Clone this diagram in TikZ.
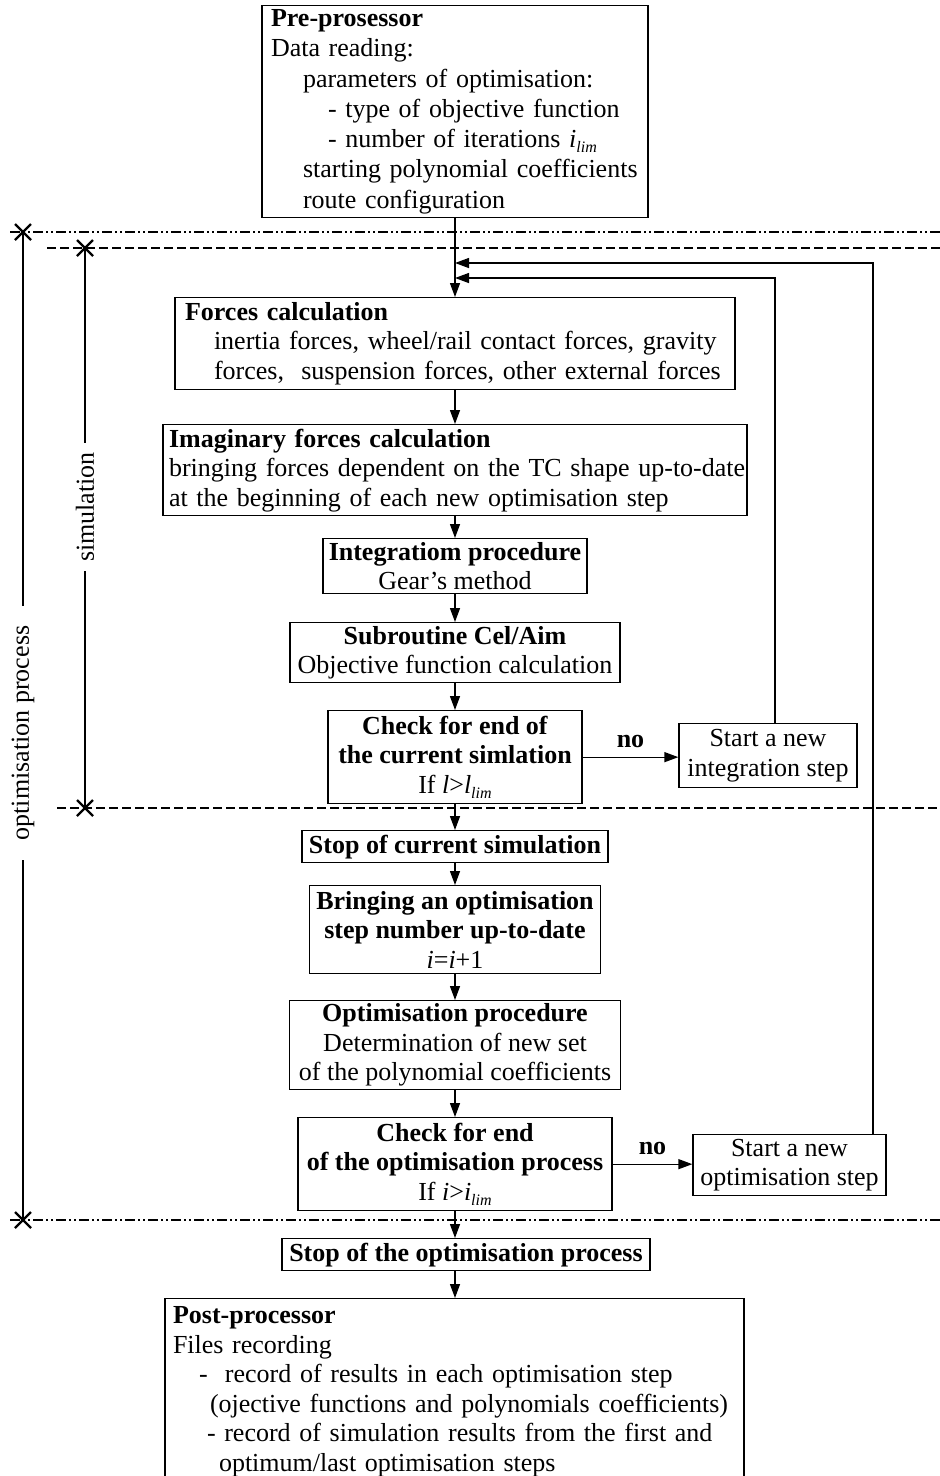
\documentclass[tikz,border=0pt]{standalone}
\usepackage{fontspec}
\setmainfont{Liberation Serif}
\usetikzlibrary{arrows.meta}
\newcommand\limsub[1]{\textit{#1}\raisebox{-5pt}{\fontsize{16}{16}\selectfont\textit{lim}}}
\newcommand\boxline[2][0pt]{\mbox{\hspace*{#1}#2}}
\begin{document}
\begin{tikzpicture}[x=1pt,y=-1pt,
  font=\fontsize{26}{29.5}\selectfont,
  box/.style={draw, line width=1.3pt, inner sep=0pt, anchor=north},
  lbox/.style={box, align=left},
  cbox/.style={box, align=center},
  arr/.style={line width=1.3pt, -{Triangle[length=14pt,width=10pt]}},
  rail/.style={line width=1.3pt},
  dd/.style={line width=2.6pt, dash pattern=on 10pt off 3pt on 2pt off 3pt on 2pt off 3pt},
  dsh/.style={line width=2.6pt, dash pattern=on 9pt off 4pt},
  xmark/.style={line width=2.4pt}]
\useasboundingbox (0,0) rectangle (940,1476);

% boxes
\node[lbox, text width=368pt, inner xsep=9pt, minimum height=212pt, font=\fontsize{26}{30.3}\selectfont] (pre) at (455,5)
 {\boxline{\textbf{Pre-prosessor}}\\
  \boxline{Data reading:}\\
  \boxline[32pt]{parameters of optimisation:}\\
  \boxline[57pt]{- type of objective function}\\
  \boxline[57pt]{- number of iterations \limsub{i}}\\
  \boxline[32pt]{starting polynomial coefficients}\\
  \boxline[32pt]{route configuration}};

\node[lbox, text width=540pt, inner xsep=10pt, minimum height=92pt] (forces) at (455,297)
 {\boxline{\textbf{Forces calculation}}\\
  \boxline[29pt]{inertia forces, wheel/rail contact forces, gravity}\\
  \boxline[29pt]{forces,\ \ suspension forces, other external forces}};

\node[lbox, text width=572pt, inner xsep=6pt, minimum height=91pt] (imag) at (455,424)
 {\boxline{\textbf{Imaginary forces calculation}}\\
  \boxline{bringing forces dependent on the TC shape up-to-date}\\
  \boxline{at the beginning of each new optimisation step}};

\node[cbox, minimum width=264pt, minimum height=55pt] (integ) at (455,538)
 {\textbf{Integratiom procedure}\\Gear’s method};

\node[cbox, minimum width=330pt, minimum height=60pt] (subr) at (455,622)
 {\textbf{Subroutine Cel/Aim}\\Objective function calculation};

\node[cbox, minimum width=254pt, minimum height=93pt] (check1) at (455,710)
 {\textbf{Check for end of}\\\textbf{the current simlation}\\If \textit{l}>\limsub{l}};

\node[cbox, minimum width=178pt, minimum height=64pt] (start1) at (768,723)
 {Start a new\\integration step};

\node[cbox, minimum width=306pt, minimum height=32pt] (stop1) at (455,830)
 {\textbf{Stop of current simulation}};

\node[cbox, minimum width=291pt, minimum height=88pt] (bring) at (455,885)
 {\textbf{Bringing an optimisation}\\\textbf{step number up-to-date}\\\textit{i}=\textit{i}+1};

\node[cbox, minimum width=331pt, minimum height=89pt] (opt) at (455,1000)
 {\textbf{Optimisation procedure}\\Determination of new set\\of the polynomial coefficients};

\node[cbox, minimum width=314pt, minimum height=93pt] (check2) at (455,1117)
 {\textbf{Check for end}\\\textbf{of the optimisation process}\\If \textit{i}>\limsub{i}};

\node[cbox, minimum width=193pt, minimum height=61pt] (start2) at (789.5,1134)
 {Start a new\\optimisation step};

\node[cbox, minimum width=368pt, minimum height=32pt] (stop2) at (466,1238)
 {\textbf{Stop of the optimisation process}};

\node[lbox, text width=563pt, inner xsep=8pt, minimum height=186pt] (post) at (454.5,1298)
 {\boxline{\textbf{Post-processor}}\\
  \boxline{Files recording}\\
  \boxline[26pt]{-\ \ record of results in each optimisation step}\\
  \boxline[37pt]{(ojective functions and polynomials coefficients)}\\
  \boxline[34pt]{- record of simulation results from the first and}\\
  \boxline[46pt]{optimum/last optimisation steps}};

% main flow
\draw[arr] (pre.south) -- (forces.north);
\draw[arr] (forces.south) -- (imag.north);
\draw[arr] (imag.south) -- (integ.north);
\draw[arr] (integ.south) -- (subr.north);
\draw[arr] (subr.south) -- (check1.north);
\draw[arr] (check1.south) -- (stop1.north);
\draw[arr] (stop1.south) -- (bring.north);
\draw[arr] (bring.south) -- (opt.north);
\draw[arr] (opt.south) -- (check2.north);
\draw[arr] (check2.south) -- (check2.south |- stop2.north);
\draw[arr] (check2.south |- stop2.south) -- (check2.south |- post.north);

% no branches
\draw[arr] (check1.east) -- node[above=5pt, font=\fontsize{26}{29.5}\selectfont\bfseries] (no1) {no} (check1.east -| start1.west);
\draw[arr] (check2.east) -- node[above=5pt, font=\fontsize{26}{29.5}\selectfont\bfseries] (no2) {no} (check2.east -| start2.west);

% return loops
\coordinate (j1) at (455,278);
\coordinate (j2) at (455,263);
\coordinate (r1) at (775,0);
\coordinate (r2) at (873,0);
\draw[arr] (start1.north -| r1) |- (j1);
\draw[arr] (start2.north -| r2) |- (j2);

% separators
\draw[dd] (10,232) -- (940,232);
\draw[dsh] (47,248) -- (940,248);
\draw[dsh] (57,808) -- (940,808);
\draw[dd] (10,1220) -- (940,1220);

% rails
\coordinate (oT) at (23,232);
\coordinate (oB) at (23,1220);
\coordinate (sT) at (85,248);
\coordinate (sB) at (85,808);
\node[rotate=90, inner xsep=20pt, inner ysep=0pt] (olbl) at (23,733) {optimisation process};
\node[rotate=90, inner xsep=9pt, inner ysep=0pt] (slbl) at (85,507) {simulation};
\draw[rail] (oT) -- (olbl.east);
\draw[rail] (olbl.west) -- (oB);
\draw[rail] (sT) -- (slbl.east);
\draw[rail] (slbl.west) -- (sB);

% crosses
\foreach \p in {oT,oB,sT,sB}{
  \draw[xmark] (\p) ++(-8,-8) -- ++(16,16);
  \draw[xmark] (\p) ++(-8,8) -- ++(16,-16);
}
\end{tikzpicture}
\end{document}
